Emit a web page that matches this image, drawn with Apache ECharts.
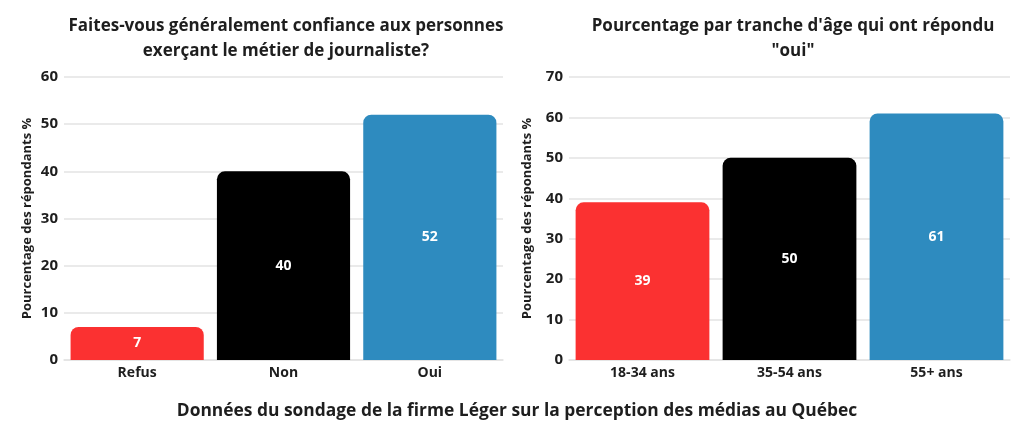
<!DOCTYPE html>
<html><head><meta charset="utf-8">
<script src="https://cdn.jsdelivr.net/npm/echarts@6/dist/echarts.min.js"></script>
<style>html,body{margin:0;padding:0;background:#fff}#c{width:1024px;height:430px}</style>
</head><body><div id="c"></div>
<script>
const leftCategories = ['Refus', 'Non', 'Oui'];
const leftValues = [7, 40, 52];
const rightCategories = ['18-34 ans', '35-54 ans', '55+ ans'];
const rightValues = [39, 50, 61];
const barColors = ['#fb3131', '#000000', '#2e8bbf'];
const leftTicks = [0, 10, 20, 30, 40, 50, 60];
const rightTicks = [0, 10, 20, 30, 40, 50, 60, 70];
const leftTitle = 'Faites-vous généralement confiance aux personnes\nexerçant le métier de journaliste?';
const rightTitle = 'Pourcentage par tranche d\'âge qui ont répondu\n"oui"';
const yName = 'Pourcentage des répondants %';
const caption = 'Données du sondage de la firme Léger sur la perception des médias au Québec';

const FONT = '"Open Sans", Lato, sans-serif';
const txt = '#1e1e1e';
const chart = echarts.init(document.getElementById('c'));

function yAxis(idx, ticks, nameGap) {
  return {
    type: 'value', gridIndex: idx, min: ticks[0], max: ticks[ticks.length - 1], interval: 10,
    name: yName, nameLocation: 'middle', nameGap: nameGap, nameRotate: 90,
    nameTextStyle: { fontFamily: FONT, fontWeight: 'bold', fontSize: 13, color: txt },
    axisLabel: { fontFamily: FONT, fontWeight: 'bold', fontSize: 15, color: txt, margin: 6 },
    axisLine: { show: false }, axisTick: { show: false },
    splitLine: { lineStyle: { color: '#e3e3e3', width: 1.5 } }
  };
}
function xAxis(idx, cats) {
  return {
    type: 'category', gridIndex: idx, data: cats,
    axisLabel: { fontFamily: FONT, fontWeight: 'bold', fontSize: 14, color: txt, margin: 6 },
    axisLine: { lineStyle: { color: '#e3e3e3', width: 1.5 } }, axisTick: { show: false }
  };
}
function series(idx, vals) {
  return {
    type: 'bar', xAxisIndex: idx, yAxisIndex: idx, barCategoryGap: '9%',
    data: vals.map((v, i) => ({ value: v, itemStyle: { color: barColors[i] } })),
    itemStyle: { borderRadius: [8, 8, 0, 0] },
    label: { show: true, position: 'inside', color: '#fff', fontFamily: FONT, fontWeight: 'bold', fontSize: 14 }
  };
}

chart.setOption({
  backgroundColor: '#fff',
  animation: false,
  title: [
    { text: leftTitle, left: 281, top: 9, textAlign: 'center',
      textStyle: { fontFamily: FONT, fontWeight: 'bold', fontSize: 17, color: txt, lineHeight: 25 } },
    { text: rightTitle, left: 788, top: 9, textAlign: 'center',
      textStyle: { fontFamily: FONT, fontWeight: 'bold', fontSize: 17, color: txt, lineHeight: 25 } },
    { text: caption, left: 512, top: 398, textAlign: 'center',
      textStyle: { fontFamily: FONT, fontWeight: 'bold', fontSize: 17.4, color: txt } }
  ],
  grid: [
    { left: 64, width: 439, top: 77, height: 283 },
    { left: 569, width: 441, top: 77, height: 283 }
  ],
  xAxis: [xAxis(0, leftCategories), xAxis(1, rightCategories)],
  yAxis: [yAxis(0, leftTicks, 30), yAxis(1, rightTicks, 35)],
  series: [series(0, leftValues), series(1, rightValues)]
});
</script></body></html>
